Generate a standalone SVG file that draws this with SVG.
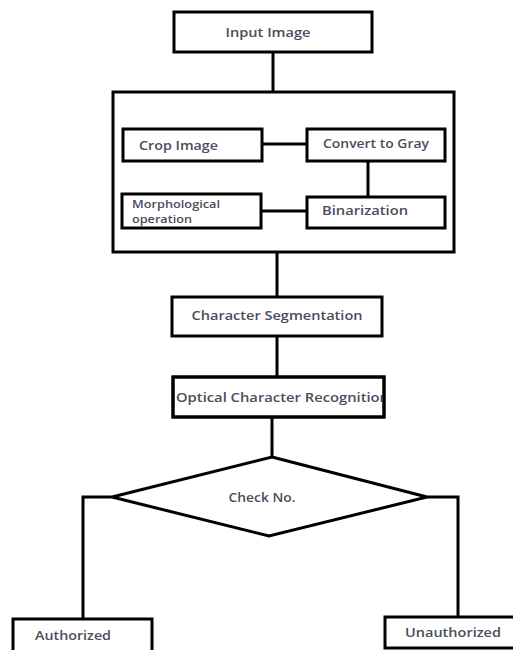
<svg xmlns="http://www.w3.org/2000/svg" width="513" height="650" viewBox="0 0 513 650">
<style>
.box{fill:#fff;stroke:#000;stroke-width:3}
.ln{fill:none;stroke:#000;stroke-width:3}
text{font-family:"Open Sans","Liberation Sans",sans-serif;font-size:13px;fill:#4c4c5c;font-weight:600}
.sm{font-size:10.5px}
</style>
<defs>
<clipPath id="ocrclip"><rect x="173" y="377" width="210" height="40"/></clipPath>
</defs>
<rect width="513" height="650" fill="#fff"/>
<g id="preprocessing">
<rect class="box" x="113" y="92" width="341" height="160"/>
</g>
<g id="connectors">
<line class="ln" x1="273" y1="52" x2="273" y2="92"/>
<line class="ln" x1="262" y1="144" x2="307" y2="144"/>
<line class="ln" x1="368" y1="161" x2="368" y2="197"/>
<line class="ln" x1="261" y1="211" x2="307" y2="211"/>
<line class="ln" x1="277" y1="252" x2="277" y2="297"/>
<line class="ln" x1="277" y1="336" x2="277" y2="377"/>
<line class="ln" x1="272" y1="417" x2="272" y2="457"/>
<polyline class="ln" points="112,497 83,497 83,619"/>
<polyline class="ln" points="427,497 458,497 458,617"/>
</g>
<g id="input-image">
<rect class="box" x="174" y="12" width="198" height="40"/>
<text x="268" y="37" text-anchor="middle" textLength="85" lengthAdjust="spacingAndGlyphs">Input Image</text>
</g>
<g id="crop-image">
<rect class="box" x="123" y="129" width="139" height="32"/>
<text x="139" y="150" textLength="79" lengthAdjust="spacingAndGlyphs">Crop Image</text>
</g>
<g id="convert-gray">
<rect class="box" x="307" y="129" width="138" height="32"/>
<text x="323" y="148" textLength="106" lengthAdjust="spacingAndGlyphs">Convert to Gray</text>
</g>
<g id="morphological">
<rect class="box" x="122" y="194" width="139" height="34"/>
<text class="sm" x="132" y="208" textLength="88" lengthAdjust="spacingAndGlyphs">Morphological</text>
<text class="sm" x="132" y="223" textLength="60" lengthAdjust="spacingAndGlyphs">operation</text>
</g>
<g id="binarization">
<rect class="box" x="307" y="197" width="138" height="31"/>
<text x="322" y="215" textLength="86" lengthAdjust="spacingAndGlyphs">Binarization</text>
</g>
<g id="char-seg">
<rect class="box" x="172" y="297" width="210" height="39"/>
<text x="277" y="320" text-anchor="middle" textLength="171" lengthAdjust="spacingAndGlyphs">Character Segmentation</text>
</g>
<g id="ocr">
<rect class="box" x="173" y="377" width="211" height="40"/>
<text x="176" y="402" clip-path="url(#ocrclip)" textLength="213" lengthAdjust="spacingAndGlyphs">Optical Character Recognition</text>
<rect x="173" y="377" width="211" height="40" fill="none" stroke="#000" stroke-width="3"/>
</g>
<g id="check-no">
<polygon class="box" points="272,457 427,497 269,536 112,497"/>
<text x="262" y="502" text-anchor="middle" textLength="67" lengthAdjust="spacingAndGlyphs">Check No.</text>
</g>
<g id="authorized">
<rect class="box" x="13" y="619" width="139" height="35"/>
<text x="35" y="640" textLength="76" lengthAdjust="spacingAndGlyphs">Authorized</text>
</g>
<g id="unauthorized">
<rect class="box" x="385" y="617" width="135" height="31"/>
<text x="405" y="637" textLength="96" lengthAdjust="spacingAndGlyphs">Unauthorized</text>
</g>
</svg>
